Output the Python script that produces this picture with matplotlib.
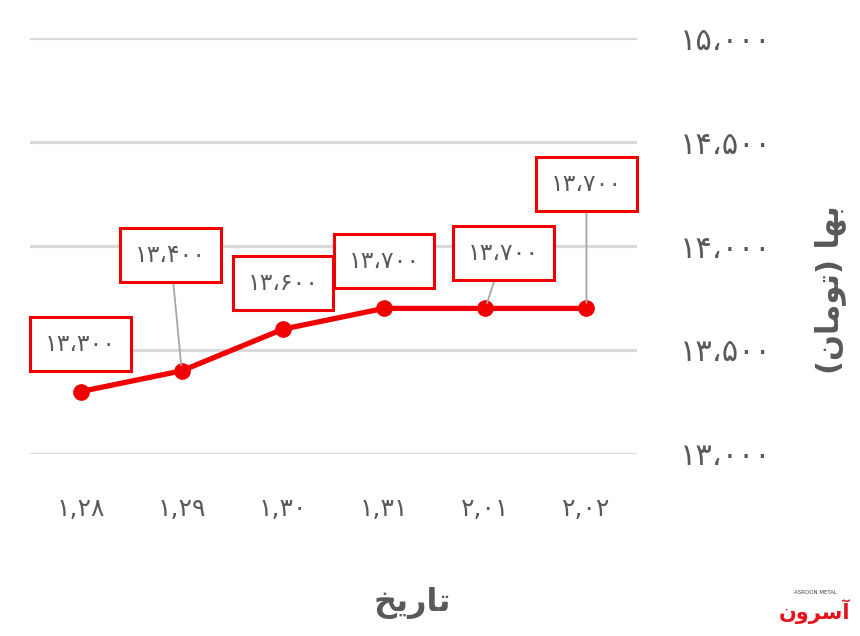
import numpy as np
import matplotlib.pyplot as plt

plt.rcParams['font.family'] = ['DejaVu Sans']

# data
dates = ['۱,۲۸', '۱,۲۹', '۱,۳۰', '۱,۳۱', '۲,۰۱', '۲,۰۲']
prices = [13300, 13400, 13600, 13700, 13700, 13700]
price_labels = ['۱۳،۳۰۰', '۱۳،۴۰۰', '۱۳،۶۰۰', '۱۳،۷۰۰', '۱۳،۷۰۰', '۱۳،۷۰۰']
yticks = [13000, 13500, 14000, 14500, 15000]
ytick_labels = ['۱۳،۰۰۰', '۱۳،۵۰۰', '۱۴،۰۰۰', '۱۴،۵۰۰', '۱۵،۰۰۰']

# label box placement (data coords) and whether a leader line is drawn
label_pos = [(0.0, 13529), (0.89, 13957), (2.0, 13822), (3.0, 13928), (4.18, 13966), (5.0, 14298)]
leader = [False, True, False, False, True, True]

# Arabic text written in visual order with presentation forms (matplotlib does no shaping)
xlabel = 'ﺦﻳﺭﺎﺗ'          # تاریخ
ylabel = '(ﻥﺎﻣﻮﺗ) ﺎﻬﺑ'    # بها (تومان)

gray = '#595959'
red = '#f00000'

fig = plt.figure(figsize=(8.6, 6.36), dpi=100)
ax = fig.add_axes([0.0349, 0.2862, 0.7058, 0.654])

x = np.arange(len(dates))
for y in yticks:
    ax.axhline(y, color='#d9d9d9', lw=2.3, zorder=0)

ax.plot(x, prices, color=red, lw=3.8, marker='o', markersize=11, zorder=3)

for i in range(len(prices)):
    tx, ty = label_pos[i]
    if leader[i]:
        props = dict(arrowstyle='-', color='#a6a6a6', lw=1.3, shrinkA=0, shrinkB=4)
    else:
        props = None
    ax.annotate(price_labels[i], xy=(x[i], prices[i]), xytext=(tx, ty),
                ha='center', va='center', fontsize=17, color=gray,
                bbox=dict(boxstyle='square,pad=0.62', fc='white', ec=red, lw=2.2),
                arrowprops=props, zorder=4)

ax.set_xlim(-0.5, 5.5)
ax.set_ylim(13000, 15000)
ax.set_xticks(x)
ax.set_xticklabels(dates, fontsize=18, color=gray)
ax.yaxis.tick_right()
ax.set_yticks(yticks)
ax.set_yticklabels(ytick_labels, fontsize=22, color=gray)
ax.tick_params(length=0, axis='x', pad=31)
ax.tick_params(length=0, axis='y', pad=31)
for s in ax.spines.values():
    s.set_visible(False)

fig.text(412 / 860, 1 - 603 / 636, xlabel, ha='center', va='center',
         fontsize=23, fontweight='bold', color=gray)
fig.text(830 / 860, 1 - 290 / 636, ylabel, ha='center', va='center',
         fontsize=22, fontweight='bold', color=gray, rotation=90)

# logo-ish mark
fig.text(815 / 860, 1 - 612 / 636, 'ﻥﻭﺮﺳﺁ', ha='center', va='center',
         fontsize=15, fontweight='bold', color='#e3141b')
fig.text(815 / 860, 1 - 592 / 636, 'ASROON METAL', ha='center', va='center',
         fontsize=4, color='#444444')

fig.savefig('out.png', dpi=100)
